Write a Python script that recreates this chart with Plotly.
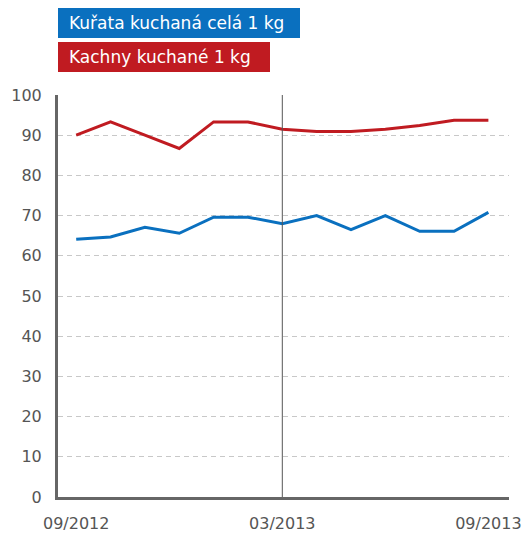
"""Kuřata vs. kachny - ceny, 09/2012 - 09/2013."""

import plotly.graph_objects as go

months = ["09/2012", "10/2012", "11/2012", "12/2012", "01/2013", "02/2013", "03/2013",
          "04/2013", "05/2013", "06/2013", "07/2013", "08/2013", "09/2013"]
kurata = [64.1, 64.7, 67.1, 65.6, 69.6, 69.6, 68.0, 70.0, 66.5, 70.0, 66.1, 66.1, 70.8]
kachny = [90.0, 93.3, 90.0, 86.7, 93.3, 93.3, 91.5, 90.9, 90.9, 91.5, 92.4, 93.7, 93.7]
shown_ticks = ["09/2012", "03/2013", "09/2013"]
marker_month = "03/2013"

BLUE = "#0a70bf"
RED = "#c01b21"
FONT = "DejaVu Sans"

x = list(range(len(months)))

fig = go.Figure()
fig.add_trace(go.Scatter(x=x, y=kachny, mode="lines", line=dict(color=RED, width=3),
                         name="Kachny kuchané 1 kg"))
fig.add_trace(go.Scatter(x=x, y=kurata, mode="lines", line=dict(color=BLUE, width=3),
                         name="Kuřata kuchaná celá 1 kg"))

# vertical divider at 03/2013
fig.add_shape(type="line", xref="x", yref="y", x0=months.index(marker_month),
              x1=months.index(marker_month), y0=0, y1=100,
              line=dict(color="#555555", width=1))

# legend boxes (coloured rectangles with white labels above the plot)
legend = [("Kuřata kuchaná celá 1 kg", BLUE, 242, 57),
          ("Kachny kuchané 1 kg", RED, 212, 23)]
for label, color, w, y0 in legend:
    fig.add_shape(type="rect", xref="paper", yref="paper",
                  xsizemode="pixel", ysizemode="pixel", xanchor=0, yanchor=1,
                  x0=0, x1=w, y0=y0, y1=y0 + 30,
                  fillcolor=color, line=dict(width=0), layer="above")
    fig.add_annotation(xref="paper", yref="paper", x=0, y=1, xshift=9, yshift=y0 + 15,
                       xanchor="left", yanchor="middle", text=label, showarrow=False,
                       font=dict(color="white", size=17, family=FONT))

fig.update_layout(
    width=524, height=538,
    margin=dict(l=58, r=15, t=95, b=41),
    plot_bgcolor="white", paper_bgcolor="white",
    showlegend=False,
    font=dict(family=FONT, color="#555555", size=16),
)
fig.update_xaxes(
    range=[-0.53, 12.6], tickvals=[months.index(m) for m in shown_ticks],
    ticktext=shown_ticks, showgrid=False, zeroline=False,
    showline=True, linecolor="#666666", linewidth=3, ticks="",
    ticklabelstandoff=10, automargin=False,
)
fig.update_yaxes(
    range=[0, 100], dtick=10, showgrid=True, gridcolor="#c8c8c8",
    griddash="5px,4px", gridwidth=1, zeroline=False,
    showline=True, linecolor="#666666", linewidth=3, ticks="",
    ticklabelstandoff=10, automargin=False,
)

# drop the default page margin so the figure sits at the window corner
fig.write_html("out.html", config={"displayModeBar": False},
               post_script="document.body.style.margin = '0';")
